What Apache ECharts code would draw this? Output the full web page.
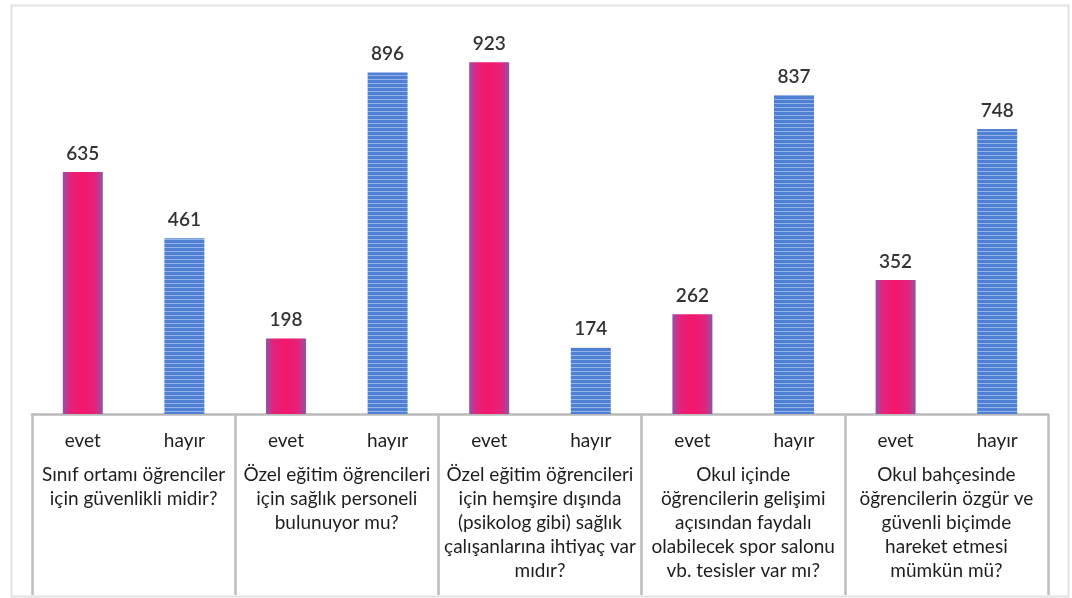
<!DOCTYPE html>
<html>
<head>
<meta charset="utf-8">
<script src="https://cdn.jsdelivr.net/npm/echarts@6/dist/echarts.min.js"></script>
<style>
  html, body { margin: 0; padding: 0; background: #fff; }
  #chart { width: 1072px; height: 598px; }
</style>
</head>
<body>
<div id="chart"></div>
<script>
// answers under each question
const answers = ['evet', 'hayır']
const questions = [
  'Sınıf ortamı öğrenciler\niçin güvenlikli midir?',
  'Özel eğitim öğrencileri\niçin sağlık personeli\nbulunuyor mu?',
  'Özel eğitim öğrencileri\niçin hemşire dışında\n(psikolog gibi) sağlık\nçalışanlarına ihtiyaç var\nmıdır?',
  'Okul içinde\nöğrencilerin gelişimi\naçısından faydalı\nolabilecek spor salonu\nvb. tesisler var mı?',
  'Okul bahçesinde\nöğrencilerin özgür ve\ngüvenli biçimde\nhareket etmesi\nmümkün mü?'
]
const evetValues = [635, 198, 923, 262, 352]
const hayirValues = [461, 896, 174, 837, 748]

// build the flat category list: evet, hayır, evet, hayır ...
const answerLabels = []
const barData = []
questions.forEach((q, i) => {
  answerLabels.push(answers[0], answers[1])
  barData.push(evetValues[i], hayirValues[i])
})

// blue striped fill for "hayır"
function stripePattern() {
  const c = document.createElement('canvas')
  c.width = 4
  c.height = 4
  const ctx = c.getContext('2d')
  ctx.fillStyle = '#4f80d4'
  ctx.fillRect(0, 0, 4, 4)
  ctx.fillStyle = '#93b2e8'
  ctx.fillRect(0, 3, 4, 1)
  return c
}

const pinkFill = new echarts.graphic.LinearGradient(0, 0, 1, 0, [
  { offset: 0, color: '#8e55a6' },
  { offset: 0.18, color: '#e3237c' },
  { offset: 0.5, color: '#f4166b' },
  { offset: 0.82, color: '#e3237c' },
  { offset: 1, color: '#8e55a6' }
])
const blueFill = { image: stripePattern(), repeat: 'repeat' }

const textFont = 'Lato'

const chart = echarts.init(document.getElementById('chart'))
chart.setOption({
  animation: false,
  grid: { left: 32, right: 24, top: 33, bottom: 184 },
  graphic: [{
    type: 'rect',
    left: 9,
    top: 3,
    shape: { width: 1057, height: 591 },
    style: { fill: 'none', stroke: '#e2e2e2', lineWidth: 2 },
    silent: true
  }],
  xAxis: [
    {
      type: 'category',
      data: answerLabels,
      position: 'bottom',
      axisLine: { lineStyle: { color: '#b9b9b9', width: 2.5 } },
      axisTick: { show: false },
      axisLabel: {
        interval: 0,
        margin: 17,
        fontSize: 19,
        fontFamily: textFont,
        color: '#1e1e1e'
      }
    },
    {
      type: 'category',
      data: questions,
      position: 'bottom',
      axisLine: { show: false },
      axisTick: {
        show: true,
        interval: 0,
        length: 181,
        lineStyle: { color: '#bcbcbc', width: 2.5 }
      },
      axisLabel: {
        interval: 0,
        margin: 49,
        fontSize: 19,
        lineHeight: 24,
        fontFamily: textFont,
        color: '#1e1e1e',
        align: 'center'
      }
    }
  ],
  yAxis: {
    type: 'value',
    min: 0,
    max: 1000,
    show: false,
    splitLine: { show: false }
  },
  series: [{
    type: 'bar',
    xAxisIndex: 0,
    barWidth: 40,
    data: barData,
    itemStyle: {
      color: (p) => (p.dataIndex % 2 === 0 ? pinkFill : blueFill)
    },
    label: {
      show: true,
      position: 'top',
      distance: 9,
      fontSize: 19,
      fontWeight: 600,
      fontFamily: textFont,
      color: '#333'
    }
  }]
})
</script>
</body>
</html>
